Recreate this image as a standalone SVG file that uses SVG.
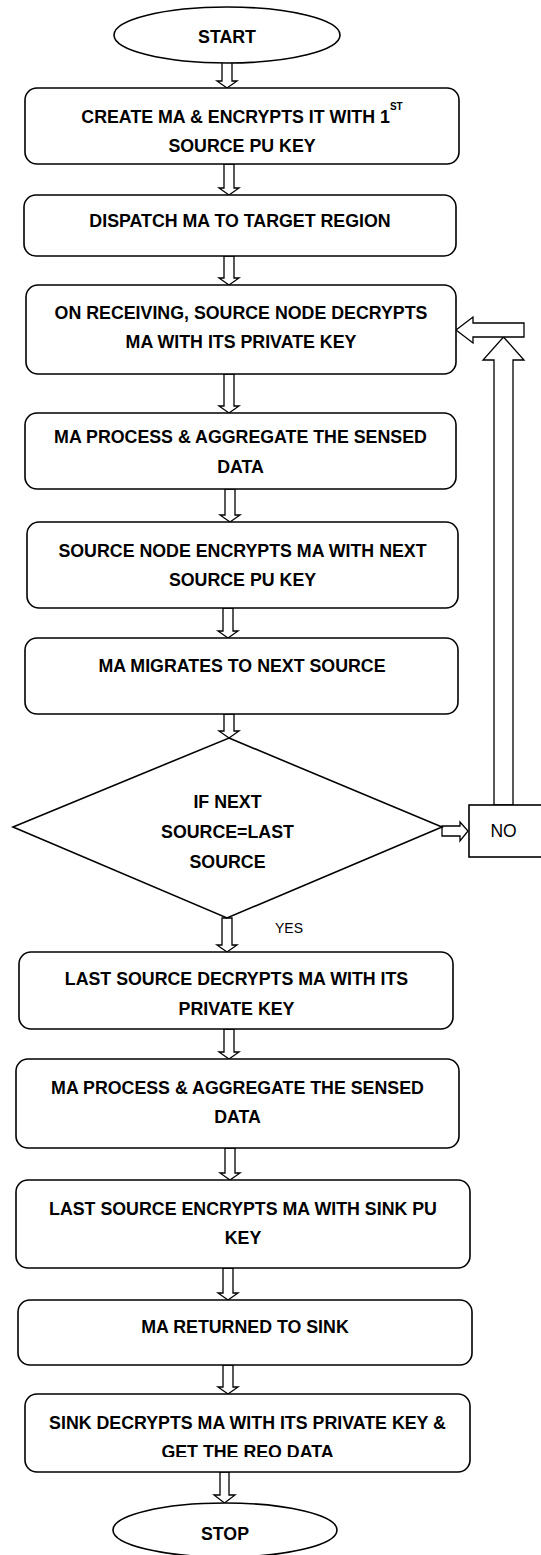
<svg xmlns="http://www.w3.org/2000/svg" width="541" height="1555" viewBox="0 0 541 1555">
  <style>
    .box { fill: #fff; stroke: #000; stroke-width: 1.6; }
    .arw { fill: #fff; stroke: #000; stroke-width: 1.3; stroke-linejoin: miter; }
    .t { font-family: "Liberation Sans", Arial, sans-serif; font-weight: bold; font-size: 17.8px; text-anchor: middle; fill: #000; }
    .r { font-family: "Liberation Sans", Arial, sans-serif; font-size: 17.5px; text-anchor: middle; fill: #000; }
    .sup { font-size: 10px; }
  </style>
  <defs>
    <clipPath id="cutLast">
      <rect x="0" y="1380" width="541" height="77"/>
    </clipPath>
  </defs>
  <rect width="541" height="1555" fill="#fff"/>

  <!-- connectors: hollow block arrows -->
  <g id="connectors">
    <polygon class="arw" points="222,62 232,62 232,81 237,81 227,88 217,81 222,81"/>
    <polygon class="arw" points="224,164 234,164 234,188 239,188 229,195 219,188 224,188"/>
    <polygon class="arw" points="224,256 234,256 234,278 239,278 229,285 219,278 224,278"/>
    <polygon class="arw" points="224,374 234,374 234,406 239,406 229,413 219,406 224,406"/>
    <polygon class="arw" points="225,489 235,489 235,515 240,515 230,522 220,515 225,515"/>
    <polygon class="arw" points="223,608 233,608 233,631 238,631 228,638 218,631 223,631"/>
    <polygon class="arw" points="224,714 234,714 234,731 239,731 229,738 219,731 224,731"/>
    <polygon class="arw" points="222,918 232,918 232,945 237,945 227,952 217,945 222,945"/>
    <polygon class="arw" points="224,1029 234,1029 234,1052 239,1052 229,1059 219,1052 224,1052"/>
    <polygon class="arw" points="225,1148 235,1148 235,1173 240,1173 230,1180 220,1173 225,1173"/>
    <polygon class="arw" points="223,1268 233,1268 233,1293 238,1293 228,1300 218,1293 223,1293"/>
    <polygon class="arw" points="223,1365 233,1365 233,1387 238,1387 228,1394 218,1387 223,1387"/>
    <polygon class="arw" points="220,1472 229,1472 229,1495 235,1495 224.5,1503 214,1495 220,1495"/>
    <!-- decision to NO -->
    <polygon class="arw" points="442,826 460,826 460,822 468,831 460,841 460,836 442,836"/>
    <!-- loop back up from NO -->
    <polygon class="arw" points="494,805 494,360 483,360 503.5,337 524,360 513,360 513,805"/>
    <polygon class="arw" points="524,323 524,337 473,337 473,343 456,330 473,317 473,323"/>
  </g>

  <g id="start">
    <ellipse class="box" cx="227" cy="35" rx="113" ry="28"/>
    <text class="t" x="227" y="43">START</text>
  </g>

  <g id="create">
    <rect class="box" x="25" y="88" width="434" height="76" rx="12"/>
    <text class="t" x="242" y="123">CREATE MA &amp; ENCRYPTS IT WITH 1<tspan class="sup" dy="-13">ST</tspan></text>
    <text class="t" x="242" y="152">SOURCE PU KEY</text>
  </g>

  <g id="dispatch">
    <rect class="box" x="24" y="195" width="432" height="61" rx="12"/>
    <text class="t" x="240" y="227">DISPATCH MA TO TARGET REGION</text>
  </g>

  <g id="decrypt">
    <rect class="box" x="26" y="285" width="430" height="89" rx="12"/>
    <text class="t" x="241" y="319">ON RECEIVING, SOURCE NODE DECRYPTS</text>
    <text class="t" x="241" y="348">MA WITH ITS PRIVATE KEY</text>
  </g>

  <g id="aggregate">
    <rect class="box" x="25" y="413" width="431" height="76" rx="12"/>
    <text class="t" x="240.5" y="443">MA PROCESS &amp; AGGREGATE THE SENSED</text>
    <text class="t" x="240.5" y="473">DATA</text>
  </g>

  <g id="encrypt-next">
    <rect class="box" x="27" y="522" width="431" height="86" rx="12"/>
    <text class="t" x="242.5" y="557">SOURCE NODE ENCRYPTS MA WITH NEXT</text>
    <text class="t" x="242.5" y="586">SOURCE PU KEY</text>
  </g>

  <g id="migrate">
    <rect class="box" x="25" y="638" width="433" height="76" rx="12"/>
    <text class="t" x="242" y="672">MA MIGRATES TO NEXT SOURCE</text>
  </g>

  <g id="decision">
    <polygon class="box" points="229,738 442,827 227,918 13,827"/>
    <text class="t" x="227.5" y="808">IF NEXT</text>
    <text class="t" x="227.5" y="838">SOURCE=LAST</text>
    <text class="t" x="227.5" y="868">SOURCE</text>
    <text class="r" x="289" y="933" style="font-size:14px">YES</text>
  </g>

  <g id="no">
    <rect x="469" y="805" width="80" height="52" fill="#fff" stroke="#000" stroke-width="1.6"/>
    <text class="r" x="503.5" y="837">NO</text>
  </g>

  <g id="last-decrypt">
    <rect class="box" x="19" y="952" width="434" height="77" rx="12"/>
    <text class="t" x="236.5" y="985">LAST SOURCE DECRYPTS MA WITH ITS</text>
    <text class="t" x="236.5" y="1015">PRIVATE KEY</text>
  </g>

  <g id="last-aggregate">
    <rect class="box" x="16" y="1059" width="443" height="89" rx="12"/>
    <text class="t" x="237.5" y="1094">MA PROCESS &amp; AGGREGATE THE SENSED</text>
    <text class="t" x="237.5" y="1123">DATA</text>
  </g>

  <g id="last-encrypt">
    <rect class="box" x="16" y="1180" width="454" height="88" rx="12"/>
    <text class="t" x="243" y="1215">LAST SOURCE ENCRYPTS MA WITH SINK PU</text>
    <text class="t" x="243" y="1244">KEY</text>
  </g>

  <g id="return">
    <rect class="box" x="18" y="1300" width="454" height="65" rx="12"/>
    <text class="t" x="245" y="1333">MA RETURNED TO SINK</text>
  </g>

  <g id="sink-decrypt">
    <rect class="box" x="25" y="1394" width="445" height="78" rx="12"/>
    <text class="t" x="247.5" y="1429">SINK DECRYPTS MA WITH ITS PRIVATE KEY &amp;</text>
    <text class="t" x="247.5" y="1458" clip-path="url(#cutLast)">GET THE REO DATA</text>
  </g>

  <g id="stop">
    <ellipse class="box" cx="225" cy="1530" rx="112" ry="27"/>
    <text class="t" x="225" y="1540">STOP</text>
  </g>
</svg>
